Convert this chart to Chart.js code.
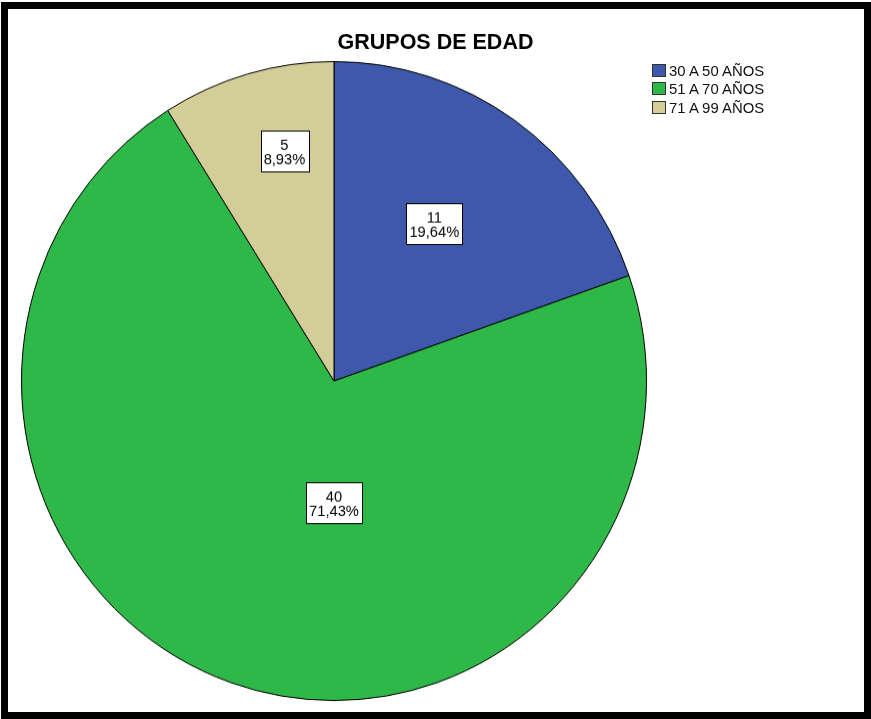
<!DOCTYPE html>
<html>
<head>
<meta charset="utf-8">
<script src="https://cdn.jsdelivr.net/npm/chart.js@4/dist/chart.umd.min.js"></script>
<style>
  html, body { margin: 0; padding: 0; background: #fff; }
  #lienzo { position: relative; width: 871px; height: 719px; overflow: hidden; }
  #marco {
    position: absolute; left: 1px; top: 2px; width: 870px; height: 717px;
    border: 7px solid #000; box-sizing: border-box;
  }
  #grafico {
    position: absolute; left: 0; top: 0;
    transform: scaleY(1.0224); transform-origin: 0 381px;
  }
  #titulo {
    position: absolute; left: 0; top: 32px; width: 871px; text-align: center;
    font: bold 21.5px 'Liberation Sans', Arial, sans-serif; line-height: 21px; color: #000;
  }
  #leyenda { position: absolute; left: 652px; top: 62px; }
  #leyenda .fila { position: relative; height: 18.3px; font: 14.9px 'Liberation Sans', Arial, sans-serif; line-height: 18px; color: #111; white-space: nowrap; }
  #leyenda .caja { position: absolute; left: 0; top: 2px; width: 12px; height: 11px; border: 1px solid #333; }
  #leyenda .texto { position: absolute; left: 17px; top: 0; }
</style>
</head>
<body>
<div id="lienzo">
  <canvas id="grafico" width="871" height="719"></canvas>
  <div id="titulo">GRUPOS DE EDAD</div>
  <div id="leyenda"></div>
  <div id="marco"></div>
</div>
<script>
// Grupos de edad: conteo por rango
const GRUPOS = ['30 A 50 AÑOS', '51 A 70 AÑOS', '71 A 99 AÑOS'];
const CANTIDADES = [11, 40, 5];
const COLORES = ['#3E58AC', '#2EB848', '#D3CE97'];

// Ubicación de cada rótulo dentro de su porción: fracción del ángulo y del radio
const POS_ROTULOS = [
    { ang: 0.468, rad: 0.588 },
    { ang: 0.425, rad: 0.38 },
    { ang: 0.614, rad: 0.738 }
];

const total = CANTIDADES.reduce((a, b) => a + b, 0);

function porcentaje(v) {
    return (v / total * 100).toFixed(2).replace('.', ',') + '%';
}

// Rótulos en caja blanca con el conteo y el porcentaje
const rotulosCaja = {
    id: 'rotulosCaja',
    afterDatasetsDraw(chart) {
        const ctx = chart.ctx;
        const arcos = chart.getDatasetMeta(0).data;
        ctx.save();
        ctx.font = '14.7px "Liberation Sans", Arial, sans-serif';
        ctx.textAlign = 'center';
        ctx.textBaseline = 'alphabetic';
        arcos.forEach((arco, i) => {
            const { x, y, startAngle, endAngle, outerRadius } = arco.getProps(['x', 'y', 'startAngle', 'endAngle', 'outerRadius'], true);
            const p = POS_ROTULOS[i];
            const a = startAngle + (endAngle - startAngle) * p.ang;
            const cx = x + Math.cos(a) * outerRadius * p.rad;
            const cy = y + Math.sin(a) * outerRadius * p.rad;

            const linea1 = String(CANTIDADES[i]);
            const linea2 = porcentaje(CANTIDADES[i]);
            const ancho = Math.max(ctx.measureText(linea1).width, ctx.measureText(linea2).width) + 6;
            const alto = 39.5;
            const bx = Math.round(cx - ancho / 2) + 0.5;
            const by = Math.round(cy - alto / 2) + 0.5;

            ctx.fillStyle = '#fff';
            ctx.fillRect(bx, by, Math.round(ancho), Math.round(alto));
            ctx.strokeStyle = '#000';
            ctx.lineWidth = 1;
            ctx.strokeRect(bx, by, Math.round(ancho), Math.round(alto));

            ctx.fillStyle = '#000';
            ctx.fillText(linea1, cx, cy - 1.2);
            ctx.fillText(linea2, cx, cy + 12.9);
        });
        ctx.restore();
    }
};

const grafico = new Chart(document.getElementById('grafico'), {
    type: 'pie',
    data: {
        labels: GRUPOS,
        datasets: [{
            data: CANTIDADES,
            backgroundColor: COLORES,
            borderColor: '#000',
            borderWidth: 1
        }]
    },
    options: {
        responsive: false,
        animation: false,
        devicePixelRatio: 1,
        layout: { padding: { left: 21, right: 224, top: 68, bottom: 25 } },
        plugins: {
            legend: { display: false },
            title: { display: false },
            tooltip: { enabled: false }
        }
    },
    plugins: [rotulosCaja]
});

// Leyenda en HTML a partir de los datos del gráfico
const leyenda = document.getElementById('leyenda');
grafico.data.labels.forEach((etiqueta, i) => {
    const fila = document.createElement('div');
    fila.className = 'fila';
    const caja = document.createElement('span');
    caja.className = 'caja';
    caja.style.background = grafico.data.datasets[0].backgroundColor[i];
    const texto = document.createElement('span');
    texto.className = 'texto';
    texto.textContent = etiqueta;
    fila.appendChild(caja);
    fila.appendChild(texto);
    leyenda.appendChild(fila);
});
</script>
</body>
</html>
